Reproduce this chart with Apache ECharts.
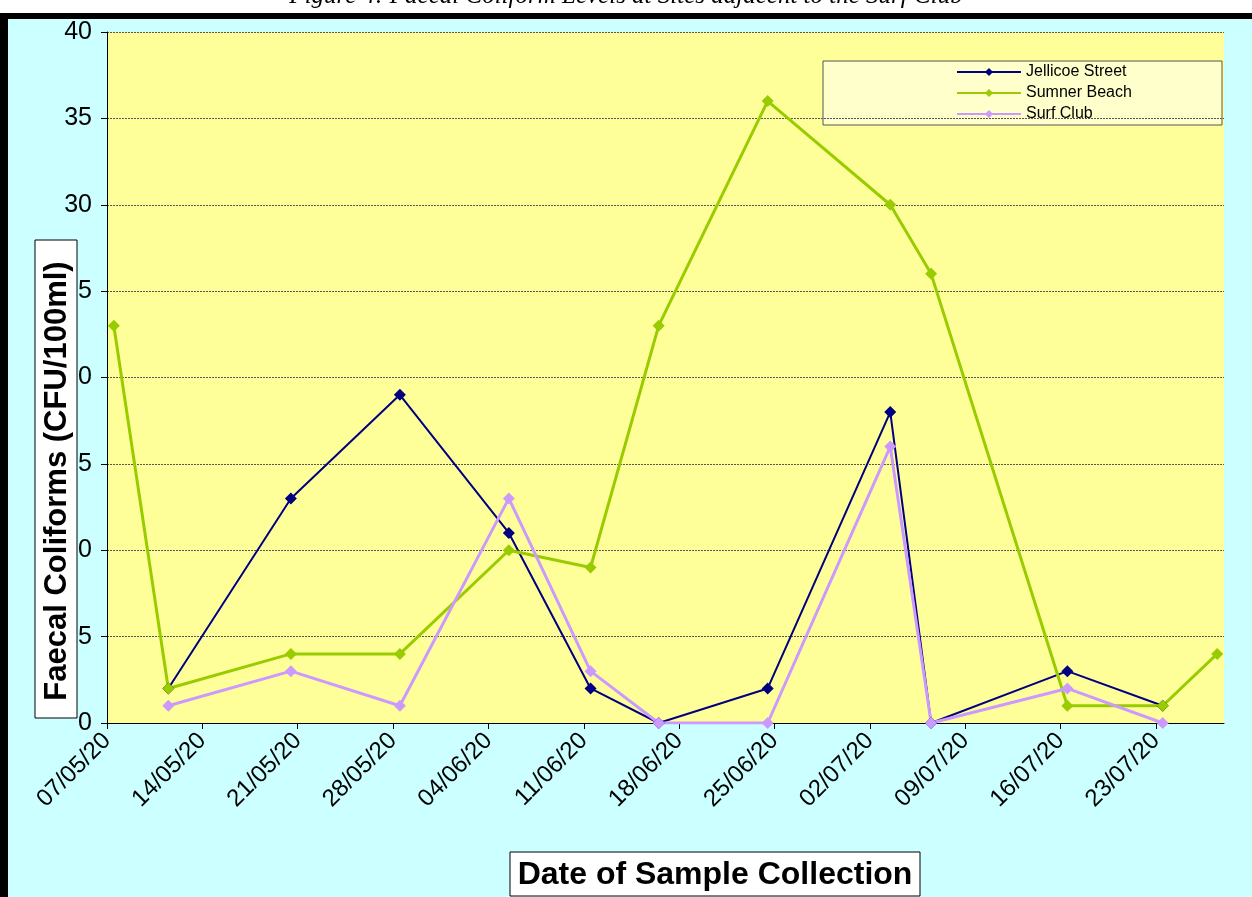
<!DOCTYPE html>
<html>
<head>
<meta charset="utf-8">
<script src="https://cdn.jsdelivr.net/npm/echarts@6/dist/echarts.min.js"></script>
<style>
  html, body { margin: 0; padding: 0; background: #fff; }
  #chart { width: 1252px; height: 897px; }
</style>
</head>
<body>
<div id="chart"></div>
<script>
// sample dates (dd/mm/yy) and counts per site, null = no sample
const sampleDates = ['07/05/20', '11/05/20', '20/05/20', '28/05/20', '05/06/20', '11/06/20', '16/06/20',
  '24/06/20', '03/07/20', '06/07/20', '16/07/20', '23/07/20', '27/07/20']
const jellicoe = [null, 2, 13, 19, 11, 2, 0, 2, 18, 0, 3, 1, null]
const sumner = [23, 2, 4, 4, 10, 9, 23, 36, 30, 26, 1, 1, 4]
const surfClub = [null, 1, 3, 1, 13, 3, 0, 0, 16, 0, 2, 0, null]
const tickLabels = ['07/05/20', '14/05/20', '21/05/20', '28/05/20', '04/06/20', '11/06/20',
  '18/06/20', '25/06/20', '02/07/20', '09/07/20', '16/07/20', '23/07/20']
const seriesNames = ['Jellicoe Street', 'Sumner Beach', 'Surf Club']

const DAY = 86400000
function toTime (s) {
  let p = s.split('/')
  return Date.UTC(2000 + Number(p[2]), Number(p[1]) - 1, Number(p[0]))
}
const t0 = toTime(tickLabels[0])
function dayOf (s) {
  return Math.round((toTime(s) - t0) / DAY)
}
// excel date axis puts each point in the middle of its day
function pairs (values) {
  let out = []
  values.forEach((v, i) => {
    if (v !== null) out.push([dayOf(sampleDates[i]) + 0.5, v])
  })
  return out
}
const tickDays = tickLabels.map(dayOf)
const maxDay = dayOf(sampleDates[sampleDates.length - 1]) + 1
const labelByDay = {}
tickLabels.forEach(l => { labelByDay[dayOf(l)] = l })

const font = 'Arial, "Liberation Sans", sans-serif'

let chart = echarts.init(document.getElementById('chart'))

function line (name, data, color, width) {
  return {
    name: name,
    type: 'line',
    data: data,
    symbol: 'diamond',
    symbolSize: 12,
    showAllSymbol: true,
    lineStyle: { color: color, width: width },
    itemStyle: { color: color },
    animation: false
  }
}

let option = {
  backgroundColor: '#CCFFFF',
  color: ['#000080', '#99CC00', '#CC99FF'],
  grid: {
    left: 107,
    right: 28,
    top: 32,
    bottom: 174,
    show: true,
    backgroundColor: '#FFFF99',
    borderWidth: 0
  },
  legend: {
    data: seriesNames,
    orient: 'vertical',
    left: 956,
    top: 63,
    itemWidth: 64,
    itemHeight: 10,
    itemGap: 3,
    padding: 0,
    textStyle: { fontFamily: font, fontSize: 16, color: '#000', lineHeight: 18 }
  },
  xAxis: {
    type: 'value',
    min: 0,
    max: maxDay,
    interval: 7,
    splitLine: { show: false },
    axisLine: { show: true, lineStyle: { color: '#000', width: 1 } },
    axisTick: { show: true, length: 6, lineStyle: { color: '#000' }, customValues: tickDays },
    axisLabel: {
      customValues: tickDays,
      rotate: 45,
      margin: 14,
      fontFamily: font,
      fontSize: 24,
      color: '#000',
      formatter: v => labelByDay[v] || ''
    }
  },
  yAxis: {
    type: 'value',
    min: 0,
    max: 40,
    interval: 5,
    axisLine: { show: true, lineStyle: { color: '#000', width: 1 } },
    axisTick: { show: true, length: 6, lineStyle: { color: '#000' } },
    axisLabel: { fontFamily: font, fontSize: 25, color: '#000', margin: 15 },
    splitLine: { show: true, lineStyle: { color: '#555', width: 1, type: [2, 1] } }
  },
  series: [
    line(seriesNames[0], pairs(jellicoe), '#000080', 2),
    line(seriesNames[1], pairs(sumner), '#99CC00', 3),
    line(seriesNames[2], pairs(surfClub), '#CC99FF', 3)
  ],
  graphic: [
    // cut off caption above the frame
    { type: 'rect', z: 90, shape: { x: 0, y: 0, width: 1252, height: 13 }, style: { fill: '#fff' } },
    {
      type: 'text', z: 91, x: 626, y: -4,
      style: {
        text: 'Figure 4: Faecal Coliform Levels at Sites adjacent to the Surf Club',
        font: 'italic 25px "Liberation Serif", "Times New Roman", serif',
        fill: '#000', align: 'center', verticalAlign: 'middle'
      }
    },
    { type: 'rect', z: 92, shape: { x: 0, y: 13, width: 1252, height: 6 }, style: { fill: '#000' } },
    { type: 'rect', z: 92, shape: { x: 0, y: 13, width: 8, height: 884 }, style: { fill: '#000' } },
    // legend box
    {
      type: 'rect', z: 0,
      shape: { x: 823, y: 61, width: 399, height: 64 },
      style: { fill: '#FFFFCC', stroke: '#555', lineWidth: 1 }
    },
    // y axis title box
    {
      type: 'rect', z: 50,
      shape: { x: 35, y: 240, width: 42, height: 478 },
      style: { fill: '#fff', stroke: '#000', lineWidth: 1 }
    },
    {
      type: 'text', z: 51, x: 57, y: 481, rotation: Math.PI / 2,
      style: {
        text: 'Faecal Coliforms (CFU/100ml)',
        font: 'bold 31px ' + font,
        fill: '#000', align: 'center', verticalAlign: 'middle'
      }
    },
    // x axis title box
    {
      type: 'rect', z: 50,
      shape: { x: 510, y: 852, width: 410, height: 44 },
      style: { fill: '#fff', stroke: '#000', lineWidth: 1 }
    },
    {
      type: 'text', z: 51, x: 715, y: 875,
      style: {
        text: 'Date of Sample Collection',
        font: 'bold 32px ' + font,
        fill: '#000', align: 'center', verticalAlign: 'middle'
      }
    }
  ]
}

chart.setOption(option)
</script>
</body>
</html>
